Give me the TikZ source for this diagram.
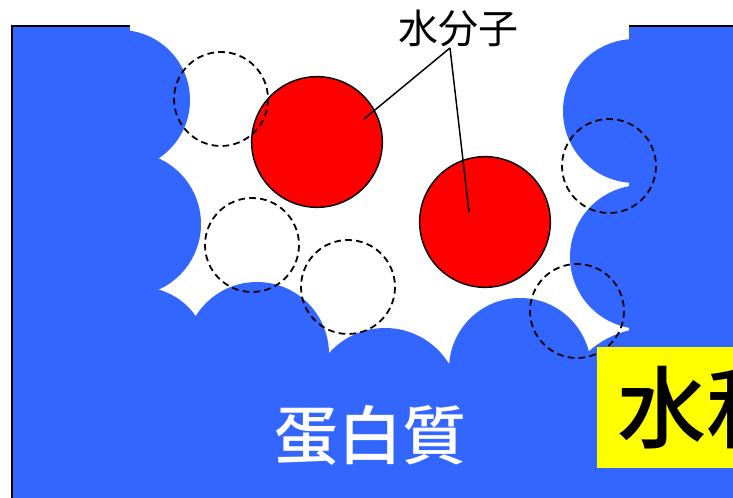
\documentclass[tikz,border=0pt]{standalone}
\usepackage{fontspec}
\newfontfamily\jp{Noto Sans CJK JP}
\newfontfamily\jpmed{Noto Sans CJK JP Medium}
\usetikzlibrary{positioning}
\definecolor{pblue}{HTML}{3366FF}
\definecolor{wred}{HTML}{FF0000}
\definecolor{hyellow}{HTML}{FFFF00}
\tikzstyle{water} = [circle, draw=black, line width=1.1pt, fill=wred, minimum size=98pt, inner sep=0pt]
\tikzstyle{site} = [draw=black, line width=1.35pt, dash pattern=on 5pt off 3.2pt]
\tikzstyle{wall} = [black, line width=1.5pt]
\tikzstyle{pointer} = [black, line width=1.1pt]

\begin{document}
\begin{tikzpicture}[x=0.75pt, y=-0.75pt]
  \useasboundingbox (0,0) rectangle (733,498);
  \clip (0,0) rectangle (733,498);
  % protein surface with its pocket
  \fill[pblue] (12,26) rectangle (130,498);
  \fill[pblue] (629,26) rectangle (733,498);
  \fill[pblue] (120,100) -- (129,224) -- (140,355) -- (257,354) -- (385,403) -- (520,369) -- (650,420)
    -- (642,257) -- (635,111) -- (635,498) -- (120,498) -- cycle;
  \foreach \cx/\cy/\r in {120/100/70, 129/224/72, 140/355/68, 257/354/72, 385/403/75,
                          520/369/71, 650/420/92, 642/257/72, 635/111/72}
    \fill[pblue] (\cx,\cy) circle (\r);
  \draw[wall] (11.5,498) -- (11.5,26) -- (130,26);
  \draw[wall] (629,26) -- (733,26);
  % bound water
  \node (w1) [water] at (317,142) {};
  \node (w2) [water] at (485,222) {};
  % empty hydration sites
  \foreach \cx/\cy in {221/99, 609/166, 252/245, 348/287, 577/311}
    \draw[site] (\cx,\cy) circle (47);
  \node (hyd) [fill=hyellow, anchor=north west, minimum height=90.75pt, inner xsep=15pt,
    font=\jpmed\fontsize{67}{67}\selectfont] at (597,347) {水和};
  \node (prot) [text=white, font=\jpmed\fontsize{48}{48}\selectfont] at (370,435) {蛋白質};
  \node (lbl) [font=\jp\fontsize{30}{30}\selectfont] at (458,28) {水分子};
  \coordinate (fork) at (450,48);
  \coordinate (tip1) at (364,119);
  \coordinate (tip2) at (469,212);
  \draw[pointer] (fork) -- (tip1);
  \draw[pointer] (fork) -- (tip2);
\end{tikzpicture}
\end{document}
